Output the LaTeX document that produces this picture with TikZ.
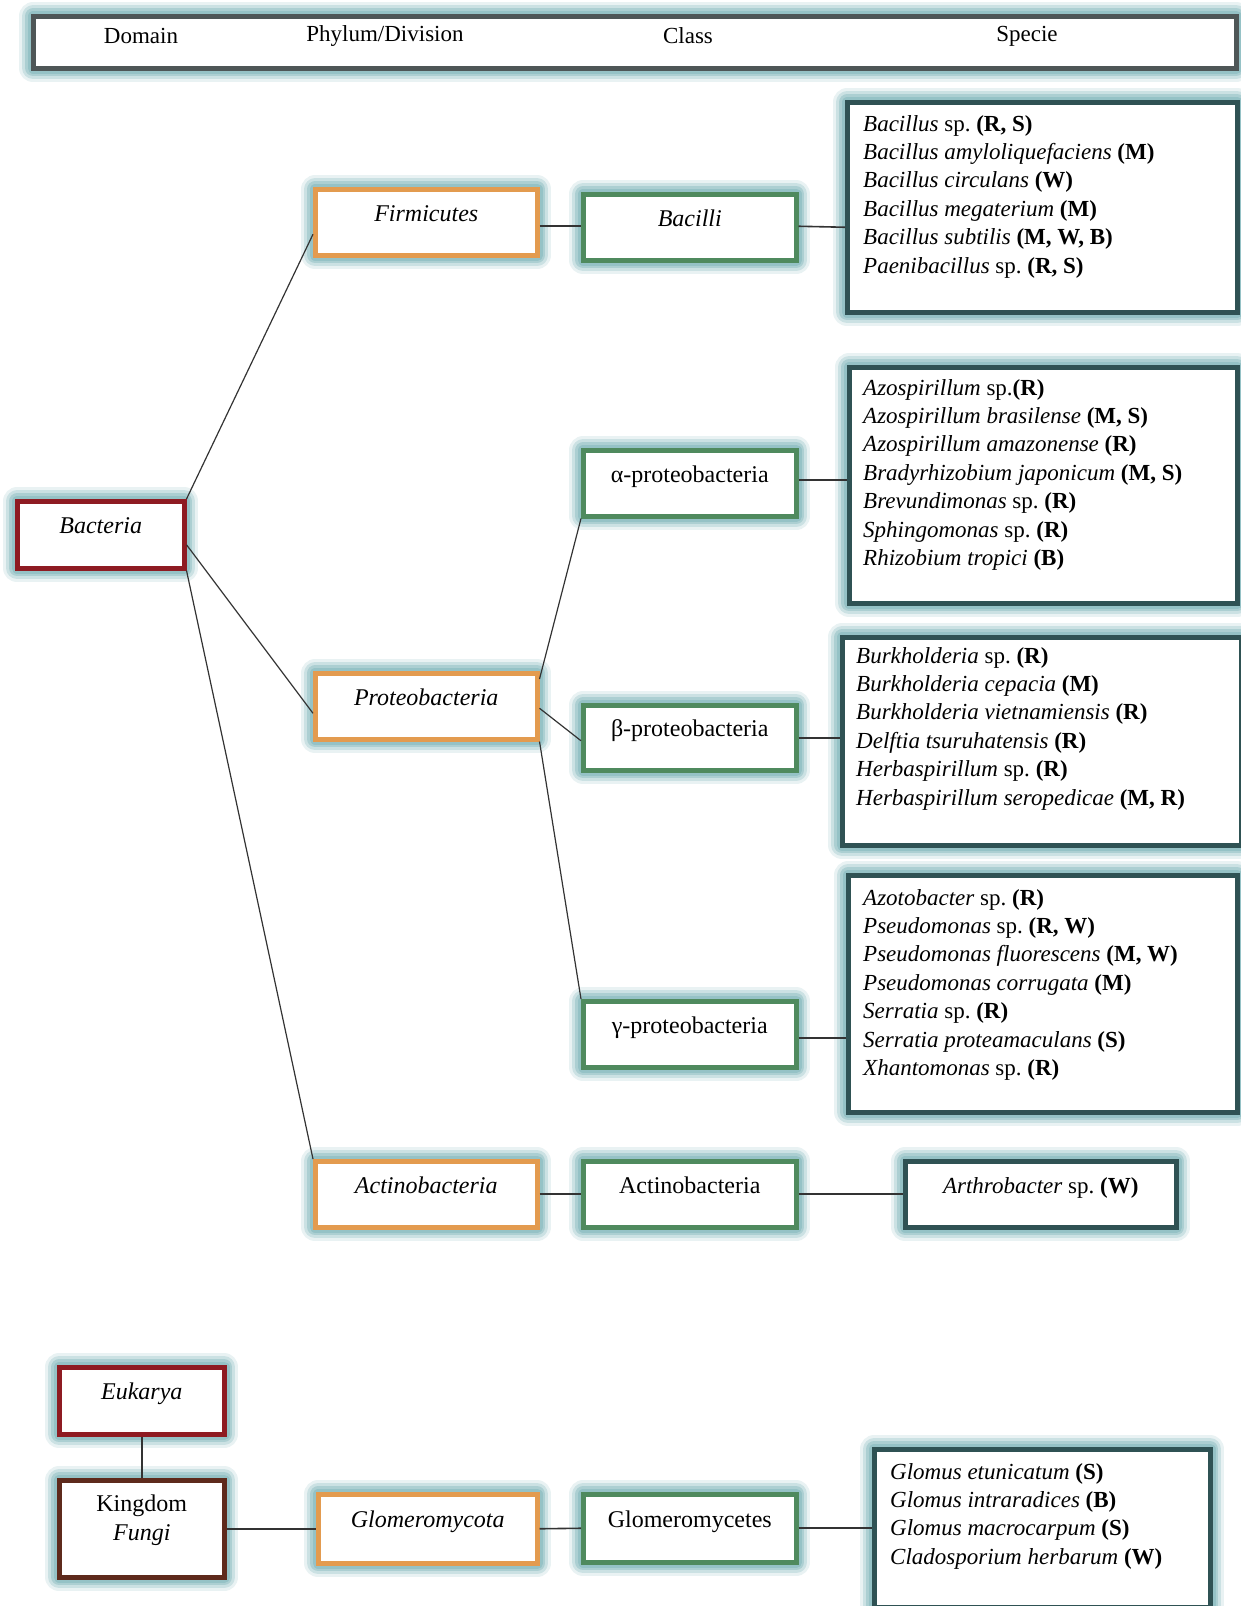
\documentclass[tikz,border=0pt]{standalone}
\usepackage{fontspec}
\setmainfont{Liberation Serif}
\frenchspacing
\definecolor{glowc}{HTML}{86B9BE}
\definecolor{hdrc}{HTML}{4E5657}
\definecolor{domc}{HTML}{8E1B22}
\definecolor{kingc}{HTML}{5E2A1C}
\definecolor{phyc}{HTML}{E39B4F}
\definecolor{clsc}{HTML}{4F8A5E}
\definecolor{spec}{HTML}{2F5254}
\definecolor{linec}{HTML}{333333}
\begin{document}
\begin{tikzpicture}[x=1pt,y=-1pt,
  box/.style={draw, fill=white, line width=4.5pt, inner sep=0pt, anchor=north west,
    preaction={draw=glowc, line width=28pt, opacity=0.18, line join=round},
    preaction={draw=glowc, line width=22pt, opacity=0.30, line join=round},
    preaction={draw=glowc, line width=16pt, opacity=0.45, line join=round},
    preaction={draw=glowc, line width=11pt, opacity=0.60, line join=round},
    font=\fontsize{24}{29}\selectfont},
  up/.style={text height=16pt, text depth=18pt},
  hdrbox/.style={box, draw=hdrc},
  dombox/.style={box, up, draw=domc},
  kingbox/.style={box, draw=kingc},
  phybox/.style={box, up, draw=phyc},
  clsbox/.style={box, up, draw=clsc},
  spbox/.style={box, draw=spec},
  arthbox/.style={box, up, draw=spec, font=\fontsize{23}{28}\selectfont},
  hdrtext/.style={font=\fontsize{23}{27}\selectfont, inner sep=0pt},
  listtext/.style={font=\fontsize{23}{28.4}\selectfont, align=left, inner sep=0pt, anchor=north west},
  conn/.style={draw=linec, line width=1.6pt},
  diag/.style={draw=linec, line width=1.2pt}
]
\useasboundingbox (0,0) rectangle (1241,1606);

% header
\node[hdrbox, minimum width=1203pt, minimum height=52pt] (hdr) at (31,14) {};
\node[hdrtext] (h1) at (141,36) {Domain};
\node[hdrtext] (h2) at (385,36) {Phylum/Division};
\node[hdrtext] (h3) at (688,36) {Class};
\node[hdrtext] (h4) at (1027,36) {Specie};

% domain
\node[dombox, minimum width=167pt, minimum height=67pt] (bact) at (15,499) {\textit{Bacteria}};

% phyla
\node[phybox, minimum width=222pt, minimum height=66pt] (firm) at (313,187) {\textit{Firmicutes}};
\node[phybox, minimum width=222pt, minimum height=66pt] (prot) at (313,671) {\textit{Proteobacteria}};
\node[phybox, minimum width=222pt, minimum height=66pt] (actp) at (313,1159) {\textit{Actinobacteria}};

% classes
\node[clsbox, minimum width=213pt, minimum height=66pt] (bacil) at (581,192) {\textit{Bacilli}};
\node[clsbox, minimum width=213pt, minimum height=66pt] (alpha) at (581,448) {α-proteobacteria};
\node[clsbox, minimum width=213pt, minimum height=65pt] (beta) at (581,703) {β-proteobacteria};
\node[clsbox, minimum width=213pt, minimum height=66pt] (gamma) at (581,999) {γ-proteobacteria};
\node[clsbox, minimum width=213pt, minimum height=66pt] (actc) at (581,1159) {Actinobacteria};

% species boxes
\node[spbox, minimum width=390pt, minimum height=210pt] (bacl) at (845,100) {};
\node[listtext] (baclt) at (863,115) {%
\textit{Bacillus} sp. \textbf{(R, S)}\\
\textit{Bacillus amyloliquefaciens} \textbf{(M)}\\
\textit{Bacillus circulans} \textbf{(W)}\\
\textit{Bacillus megaterium} \textbf{(M)}\\
\textit{Bacillus subtilis} \textbf{(M, W, B)}\\
\textit{Paenibacillus} sp. \textbf{(R, S)}};

\node[spbox, minimum width=388pt, minimum height=236pt] (alist) at (847,365) {};
\node[listtext] (alistt) at (863,379) {%
\textit{Azospirillum} sp.\textbf{(R)}\\
\textit{Azospirillum brasilense} \textbf{(M, S)}\\
\textit{Azospirillum amazonense} \textbf{(R)}\\
\textit{Bradyrhizobium japonicum} \textbf{(M, S)}\\
\textit{Brevundimonas} sp. \textbf{(R)}\\
\textit{Sphingomonas} sp. \textbf{(R)}\\
\textit{Rhizobium tropici} \textbf{(B)}};

\node[spbox, minimum width=399pt, minimum height=208pt] (blist) at (840,635) {};
\node[listtext] (blistt) at (856,647) {%
\textit{Burkholderia} sp. \textbf{(R)}\\
\textit{Burkholderia cepacia} \textbf{(M)}\\
\textit{Burkholderia vietnamiensis} \textbf{(R)}\\
\textit{Delftia tsuruhatensis} \textbf{(R)}\\
\textit{Herbaspirillum} sp. \textbf{(R)}\\
\textit{Herbaspirillum seropedicae} \textbf{(M, R)}};

\node[spbox, minimum width=389pt, minimum height=237pt] (glist) at (846,873) {};
\node[listtext] (glistt) at (863,889) {%
\textit{Azotobacter} sp. \textbf{(R)}\\
\textit{Pseudomonas} sp. \textbf{(R, W)}\\
\textit{Pseudomonas fluorescens} \textbf{(M, W)}\\
\textit{Pseudomonas corrugata} \textbf{(M)}\\
\textit{Serratia} sp. \textbf{(R)}\\
\textit{Serratia proteamaculans} \textbf{(S)}\\
\textit{Xhantomonas} sp. \textbf{(R)}};

\node[arthbox, minimum width=271pt, minimum height=66pt] (arth) at (903,1159) {\textit{Arthrobacter} sp. \textbf{(W)}};

% Eukarya part
\node[dombox, minimum width=165pt, minimum height=67pt] (euk) at (57,1365) {\textit{Eukarya}};
\node[kingbox, minimum width=165pt, minimum height=97pt] (fungi) at (57,1478)
  {\raisebox{9pt}[\height][\depth]{\begin{tabular}{@{}c@{}}Kingdom\\\textit{Fungi}\end{tabular}}};
\node[phybox, minimum width=219pt, minimum height=69pt] (glomp) at (316,1492) {\textit{Glomeromycota}};
\node[clsbox, minimum width=213pt, minimum height=68pt] (glomc) at (581,1492) {Glomeromycetes};
\node[spbox, minimum width=336pt, minimum height=158pt] (glolist) at (872,1447) {};
\node[listtext] (glolistt) at (890,1463) {%
\textit{Glomus etunicatum} \textbf{(S)}\\
\textit{Glomus intraradices} \textbf{(B)}\\
\textit{Glomus macrocarpum} \textbf{(S)}\\
\textit{Cladosporium herbarum} \textbf{(W)}};

% connectors: bacteria tree
\draw[diag] (bact.north east) -- ([yshift=-12pt]firm.west);
\draw[diag] ([yshift=-10pt]bact.east) -- ([yshift=-7pt]prot.west);
\draw[diag] (bact.south east) -- (actp.north west);
\draw[diag] ([yshift=-8pt]prot.north east) -- (alpha.south west);
\draw[diag] ([yshift=-2pt]prot.east) -- ([yshift=-3pt]beta.west);
\draw[diag] (prot.south east) -- (gamma.north west);

\draw[conn] ([yshift=-4pt]firm.east) -- ([yshift=1pt]bacil.west);
\draw[conn] ([yshift=1pt]bacil.east) -- (bacil.east -| bacl.west);
\draw[conn] ([yshift=3pt]alpha.east) -- ([yshift=3pt]alpha.east -| alist.west);
\draw[conn] (beta.east) -- (beta.east -| blist.west);
\draw[conn] ([yshift=-4pt]gamma.east) -- ([yshift=-4pt]gamma.east -| glist.west);
\draw[conn] (actp.east) -- (actc.west);
\draw[conn] (actc.east) -- (arth.west);

% connectors: eukarya
\draw[conn] (euk.south) -- (fungi.north);
\draw[conn] (fungi.east) -- (fungi.east -| glomp.west);
\draw[conn] (glomp.east) -- (glomc.west);
\draw[conn] (glomc.east) -- (glomc.east -| glolist.west);
\end{tikzpicture}
\end{document}
